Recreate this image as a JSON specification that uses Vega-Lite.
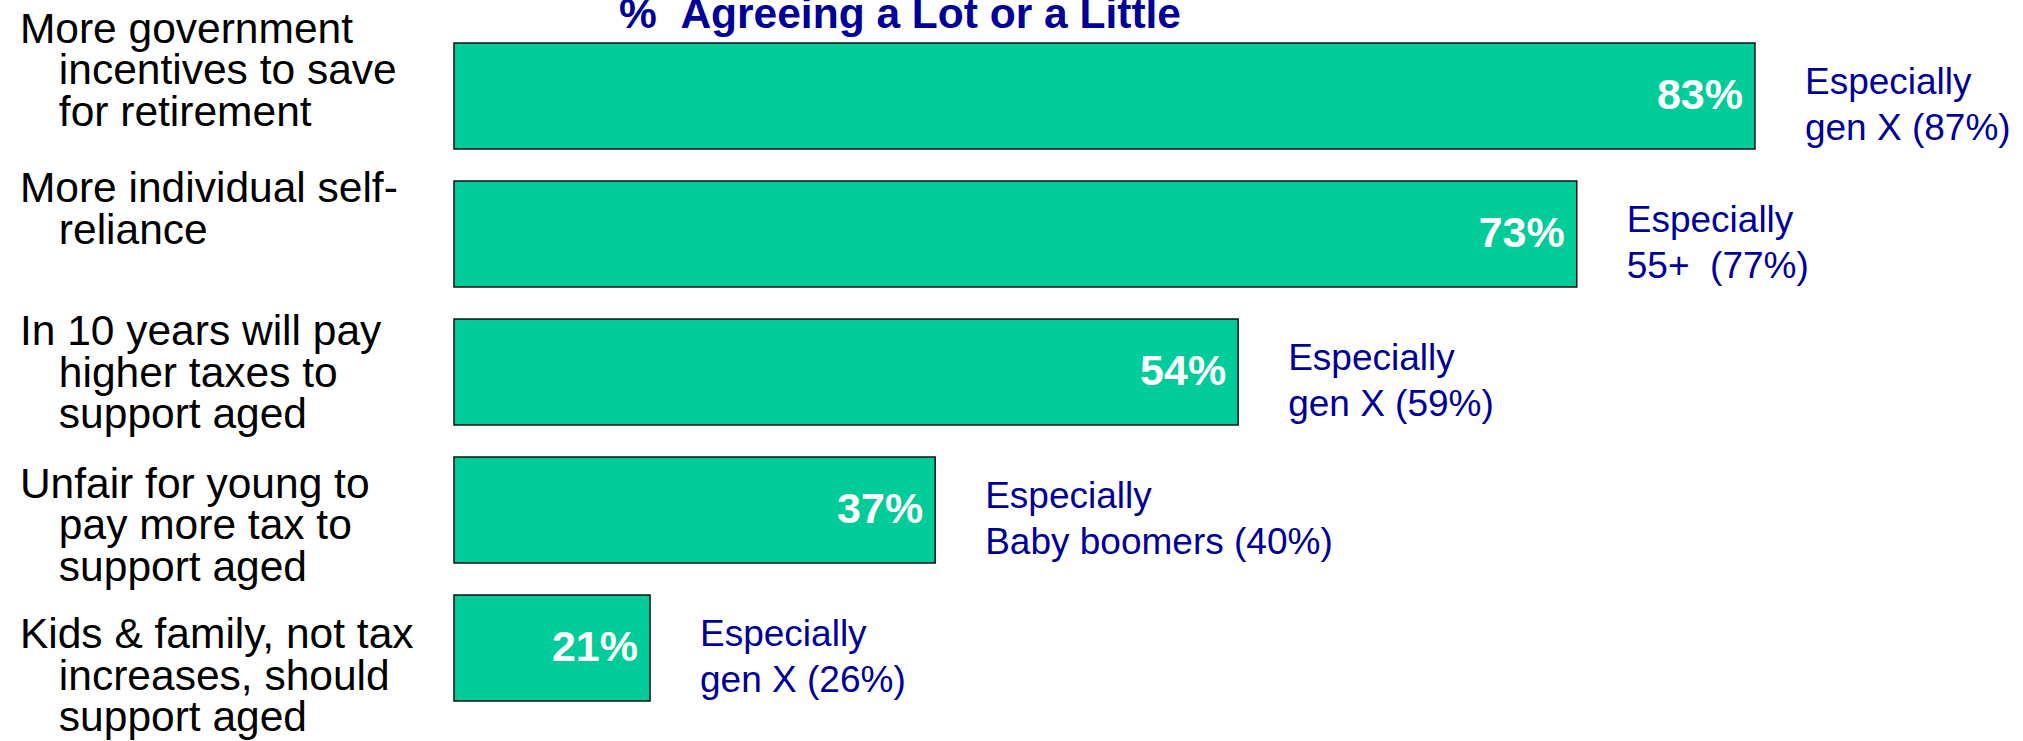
{
  "$schema": "https://vega.github.io/schema/vega-lite/v6.json",
  "width": 1497,
  "height": 690,
  "autosize": {"type": "none"},
  "padding": {"left": 454, "top": 27, "right": 72, "bottom": 24},
  "background": "white",
  "config": {"view": {"stroke": null}, "font": "Liberation Sans"},
  "title": {
    "text": "% \u00a0Agreeing a Lot or a Little",
    "anchor": "start",
    "frame": "group",
    "dx": 165,
    "dy": 62,
    "fontSize": 42.5,
    "fontWeight": "bold",
    "color": "#000099",
    "font": "Liberation Sans",
    "baseline": "alphabetic",
    "offset": 0
  },
  "data": {
    "values": [
      {"item": "More government~incentives to save~for retirement", "value": 83, "note": ["Especially", "gen X (87%)"]},
      {"item": "More individual self-~reliance", "value": 73, "note": ["Especially", "55+ \u00a0(77%)"]},
      {"item": "In 10 years will pay~higher taxes to~support aged", "value": 54, "note": ["Especially", "gen X (59%)"]},
      {"item": "Unfair for young to~pay more tax to~support aged", "value": 37, "note": ["Especially", "Baby boomers (40%)"]},
      {"item": "Kids & family, not tax~increases, should~support aged", "value": 21, "note": ["Especially", "gen X (26%)"]}
    ]
  },
  "transform": [{"calculate": "datum.value + '%'", "as": "label"}],
  "encoding": {
    "y": {
      "field": "item",
      "type": "nominal",
      "sort": null,
      "scale": {"paddingInner": 0.232, "paddingOuter": 0.116},
      "axis": {
        "title": null,
        "domain": false,
        "ticks": false,
        "tickSize": 0,
        "labelPadding": 434.6,
        "labelAlign": "left",
        "labelBaseline": "top",
        "labelFont": "Liberation Sans",
        "labelFontSize": 42.5,
        "labelColor": "black",
        "labelLineHeight": 41.5,
        "labelLimit": 0,
        "labelExpr": "split(replace(datum.value, regexp('~', 'g'), '|\u200b\u00a0\u00a0\u00a0\u200a'), '|')",
        "labelOffset": {
          "condition": [
            {"test": "datum.index < 0.1", "value": -87.3},
            {"test": "datum.index < 0.3", "value": -65.7},
            {"test": "datum.index < 0.6", "value": -61},
            {"test": "datum.index < 0.8", "value": -46.3}
          ],
          "value": -33.7
        }
      }
    }
  },
  "layer": [
    {
      "mark": {"type": "bar", "color": "#00CC99", "stroke": "#111111", "strokeWidth": 1.5},
      "encoding": {
        "x": {"field": "value", "type": "quantitative", "scale": {"domain": [10, 94], "zero": false, "nice": false}, "axis": null},
        "x2": {"datum": 10}
      }
    },
    {
      "mark": {"type": "text", "align": "right", "baseline": "middle", "dx": -12, "color": "white", "font": "Liberation Sans", "fontSize": 43, "fontWeight": "bold"},
      "encoding": {
        "x": {"field": "value", "type": "quantitative"},
        "text": {"field": "label"}
      }
    },
    {
      "mark": {"type": "text", "align": "left", "baseline": "middle", "dx": 50, "dy": -13, "color": "#000099", "font": "Liberation Sans", "fontSize": 37, "lineHeight": 46},
      "encoding": {
        "x": {"field": "value", "type": "quantitative"},
        "text": {"field": "note"}
      }
    }
  ]
}
